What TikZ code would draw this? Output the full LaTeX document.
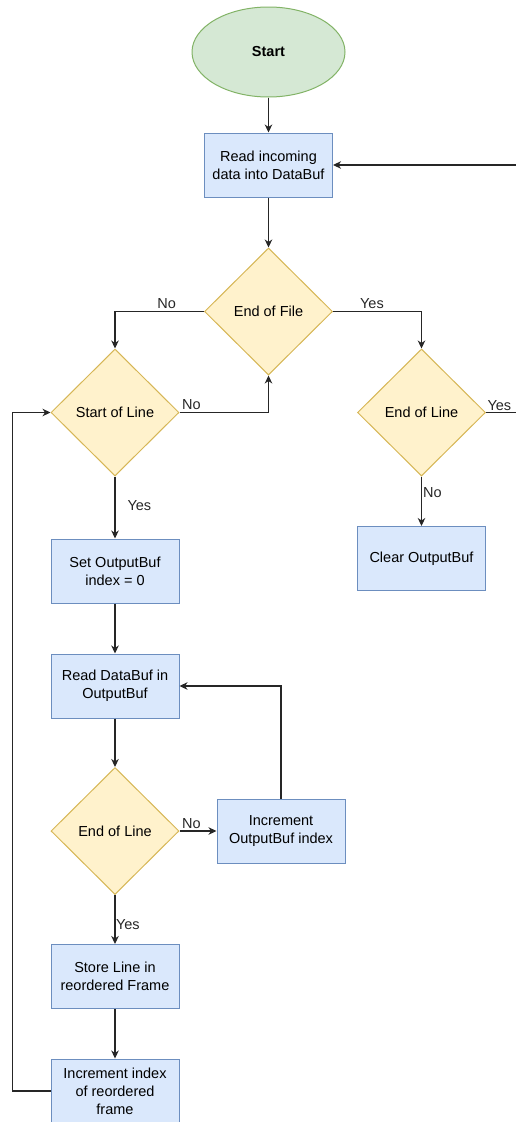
\documentclass[tikz,border=0pt]{standalone}
\usepackage{fontspec}
\setmainfont{Liberation Sans}
\usetikzlibrary{positioning, arrows.meta, shapes.geometric}
\definecolor{procfill}{HTML}{DAE8FC}
\definecolor{procline}{HTML}{6C8EBF}
\definecolor{decfill}{HTML}{FFF2CC}
\definecolor{decline}{HTML}{D6B656}
\definecolor{termfill}{HTML}{D5E8D4}
\definecolor{termline}{HTML}{82B366}

\begin{document}
\begin{tikzpicture}
[
    on grid, every node/.style={font=\fontsize{14.5}{18}\selectfont},
    term_node/.style={ellipse, draw=termline, fill=termfill, line width=1pt, minimum width=153pt, minimum height=90pt, font=\fontsize{14.5}{18}\selectfont\bfseries},
    proc_node/.style={rectangle, draw=procline, fill=procfill, line width=1pt, minimum width=128pt, minimum height=64pt, align=center, inner sep=2pt},
    dec_node/.style={diamond, draw=decline, fill=decfill, line width=1pt, minimum width=128pt, minimum height=127pt, inner sep=2pt},
    flow/.style={-{Stealth[length=8pt, width=7.5pt, inset=2.5pt]}, line width=1.1pt, color=black!85},
    lbl/.style={inner sep=2pt, text=black!85},
]
    \useasboundingbox (0,0) rectangle (515pt,-1122pt);
    \node[term_node] (start) at (268.5pt,-52pt) {Start} ;
    \node[proc_node] (read) [below = 113pt of start] {Read incoming\\data into DataBuf} ;
    \node[dec_node] (eof) [below = 146.5pt of read] {End of File} ;
    \node[dec_node] (sol) [below left = 101pt and 153.5pt of eof] {Start of Line} ;
    \node[dec_node] (eolr) [below right = 101pt and 153pt of eof] {End of Line} ;
    \node[proc_node] (clear) [below = 146pt of eolr] {Clear OutputBuf} ;
    \node[proc_node] (setbuf) [below = 158.5pt of sol] {Set OutputBuf\\index = 0} ;
    \node[proc_node] (readbuf) [below = 115pt of setbuf] {Read DataBuf in\\OutputBuf} ;
    \node[dec_node] (eol) [below = 145pt of readbuf] {End of Line} ;
    \node[proc_node] (incr) [right = 166pt of eol] {Increment\\OutputBuf index} ;
    \node[proc_node] (store) [below = 145.5pt of eol] {Store Line in\\reordered Frame} ;
    \node[proc_node] (incidx) [below = 114.5pt of store] {Increment index\\of reordered\\frame} ;
    \draw[flow] (start) -- (read) ;
    \draw[flow] (read) -- (eof) ;
    \draw[flow] (eof.west) -| node[lbl, above, pos=0.21] (eof_no) {No} (sol.north) ;
    \draw[flow] (eof.east) -| node[lbl, above, pos=0.22] (eof_yes) {Yes} (eolr.north) ;
    \draw[flow] (sol.east) -| node[lbl, above right, pos=0] (sol_no) {No} (eof.south) ;
    \draw[flow] (eolr.east) -- node[lbl, above right, pos=0, inner sep=1pt] (eolr_yes) {Yes} ++(40pt,0) |- (read.east) ;
    \draw[flow] (eolr) -- node[lbl, right, pos=0.33, inner sep=1pt] (eolr_no) {No} (clear) ;
    \draw[flow] (sol) -- node[lbl, right=10pt, pos=0.47] (sol_yes) {Yes} (setbuf) ;
    \draw[flow] (setbuf) -- (readbuf) ;
    \draw[flow] (readbuf) -- (eol) ;
    \draw[flow] (eol) -- node[lbl, above right, pos=0] (eol_no) {No} (incr) ;
    \draw[flow] (incr.north) |- (readbuf.east) ;
    \draw[flow] (eol) -- node[lbl, right, pos=0.6, inner sep=0.5pt] (eol_yes) {Yes} (store) ;
    \draw[flow] (store) -- (incidx) ;
    \draw[flow] (incidx.west) -- ++(-38pt,0) |- (sol.west) ;
\end{tikzpicture}
\end{document}
